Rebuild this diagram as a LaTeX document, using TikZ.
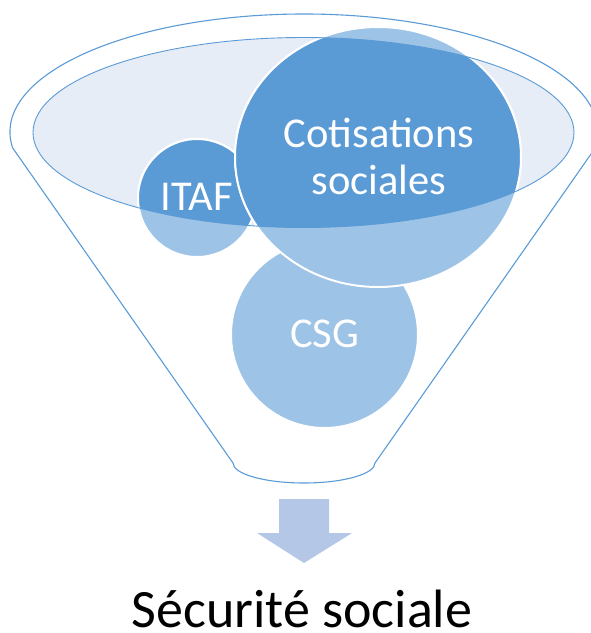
\documentclass[tikz,border=0pt]{standalone}
\usepackage{fontspec}
\setmainfont{Carlito}
\definecolor{accdark}{HTML}{5B9BD5}
\definecolor{acclight}{HTML}{9DC3E6}
\definecolor{funnelfill}{HTML}{E6EDF7}
\definecolor{arrowcol}{HTML}{B4C7E7}
\tikzset{
  funnelline/.style={draw=accdark, line width=1.1pt},
  bubbleborder/.style={draw=white, line width=2pt},
  bubbletext/.style={text=white, font=\fontsize{42.5}{47}\selectfont, align=center, inner sep=0pt},
}
\begin{document}
\begin{tikzpicture}[x=1pt,y=-1pt]
\useasboundingbox (0,0) rectangle (591,633);
% funnel outline
\draw[funnelline, fill=white] (12.7,148) arc[start angle=172.2, end angle=367.8, x radius=294, y radius=118]
  -- (375,463) arc[start angle=0, end angle=180, x radius=71, y radius=20] -- cycle;
% inner ellipse fill
\fill[funnelfill] (303.5,132.5) ellipse[x radius=270.5, y radius=95];
% CSG
\path[fill=acclight, bubbleborder] (324.5,334.5) circle[radius=93.5];
\begin{scope}
\clip (303.5,132.5) ellipse[x radius=270.5, y radius=95];
\path[fill=accdark, bubbleborder] (324.5,334.5) circle[radius=93.5];
\end{scope}
% ITAF
\path[fill=acclight, bubbleborder] (197,198) circle[radius=59];
\begin{scope}
\clip (303.5,132.5) ellipse[x radius=270.5, y radius=95];
\path[fill=accdark, bubbleborder] (197,198) circle[radius=59];
\end{scope}
% Cotisations
\path[fill=acclight, bubbleborder] (378,157) ellipse[x radius=143, y radius=130];
\begin{scope}
\clip (303.5,132.5) ellipse[x radius=270.5, y radius=95];
\path[fill=accdark, bubbleborder] (378,157) ellipse[x radius=143, y radius=130];
\end{scope}
% inner ellipse outline
\draw[draw=accdark, line width=0.9pt] (303.5,132.5) ellipse[x radius=270.5, y radius=95];
% labels
\node[bubbletext] (cot) at (379,156) {Cotisations\\sociales};
\node[bubbletext] (itaf) at (197,197) {ITAF};
\node[bubbletext] (csg) at (324.5,334) {CSG};
% arrow
\fill[arrowcol] (279,499) -- (329,499) -- (329,533) -- (352,533) -- (304,563) -- (257,533) -- (279,533) -- cycle;
% result
\node[anchor=base, inner sep=0pt, font=\fontsize{54}{60}\selectfont] (secu) at (302,627) {Sécurité sociale};
\end{tikzpicture}
\end{document}
